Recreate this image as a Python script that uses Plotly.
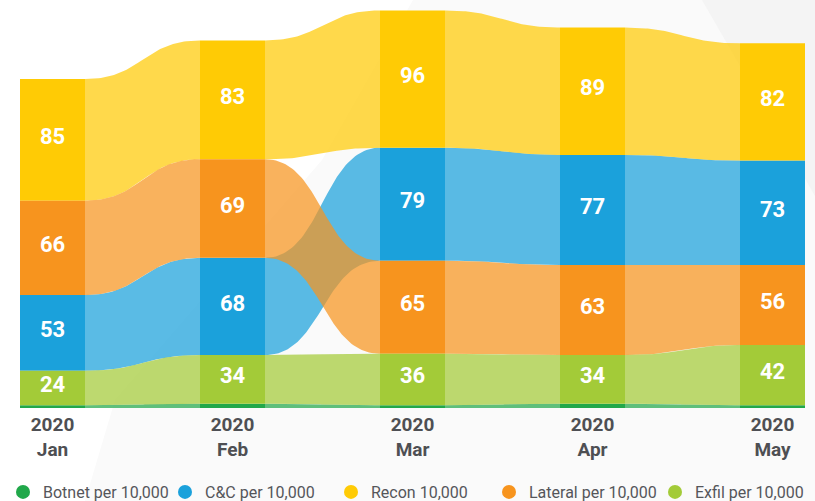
import numpy as np
import plotly.graph_objects as go

# ---- data ----
months = ["Jan", "Feb", "Mar", "Apr", "May"]
year = "2020"
series_names = ["Botnet per 10,000", "C&C per 10,000", "Recon 10,000",
                "Lateral per 10,000", "Exfil per 10,000"]
botnet = [2, 3, 2, 3, 2]
cnc = [53, 68, 79, 77, 73]
recon = [85, 83, 96, 89, 82]
lateral = [66, 69, 65, 63, 56]
exfil = [24, 34, 36, 34, 42]
bar_colors = ["#21a84a", "#1ba1db", "#ffcb05", "#f7941e", "#a3cb38"]
ribbon_alpha = 0.72

values = [botnet, cnc, recon, lateral, exfil]
n_m = len(months)
n_s = len(values)

# stacking: botnet fixed at the bottom, others sorted ascending upward
bases = [[0.0] * n_m for _ in range(n_s)]
for m in range(n_m):
    cur = values[0][m]
    order = sorted(range(1, n_s), key=lambda s: values[s][m])
    for s in order:
        bases[s][m] = cur
        cur += values[s][m]

W = 65 / 180  # bar width in x units
PX_PER_UNIT = 1.43
PLOT_H = 408


def hex_rgba(h, a):
    h = h.lstrip("#")
    r, g, b = int(h[0:2], 16), int(h[2:4], 16), int(h[4:6], 16)
    return f"rgba({r},{g},{b},{a})"


def bez(x0, y0, x1, y1, n=60):
    t = np.linspace(0, 1, n)
    cx = (x0 + x1) / 2
    x = (1 - t) ** 3 * x0 + 3 * (1 - t) ** 2 * t * cx + 3 * (1 - t) * t ** 2 * cx + t ** 3 * x1
    y = (1 - t) ** 3 * y0 + 3 * (1 - t) ** 2 * t * y0 + 3 * (1 - t) * t ** 2 * y1 + t ** 3 * y1
    return x, y


fig = go.Figure()

# ribbons
for s in range(n_s):
    col = hex_rgba(bar_colors[s], ribbon_alpha)
    for m in range(n_m - 1):
        x0 = m + W / 2
        x1 = m + 1 - W / 2
        t0 = bases[s][m] + values[s][m]
        t1 = bases[s][m + 1] + values[s][m + 1]
        b0 = bases[s][m]
        b1 = bases[s][m + 1]
        xt, yt = bez(x0, t0, x1, t1)
        xb, yb = bez(x0, b0, x1, b1)
        xs = np.concatenate([xt, xb[::-1]])
        ys = np.concatenate([yt, yb[::-1]])
        fig.add_trace(go.Scatter(x=xs, y=ys, mode="lines", fill="toself",
                                 fillcolor=col, line=dict(width=0),
                                 hoverinfo="skip", showlegend=False))

# bars
for s in range(n_s):
    fig.add_trace(go.Bar(x=list(range(n_m)), y=values[s], base=bases[s],
                         width=W, marker=dict(color=bar_colors[s], line=dict(width=0)),
                         showlegend=False, hoverinfo="skip"))

# value labels
for s in range(1, n_s):
    ys = [bases[s][m] + values[s][m] / 2 + 1.0 for m in range(n_m)]
    fig.add_trace(go.Scatter(x=list(range(n_m)), y=ys, mode="text",
                             text=[f"<b>{v}</b>" for v in values[s]],
                             textfont=dict(family="Roboto", size=22, color="white"),
                             hoverinfo="skip", showlegend=False))

# legend entries, each in its own legend so they can be placed freely
legend_px = [27, 189, 355, 513, 679]
legend_names = ["legend", "legend2", "legend3", "legend4", "legend5"]
for s in range(n_s):
    fig.add_trace(go.Scatter(x=[None], y=[None], mode="markers",
                             marker=dict(size=14, color=bar_colors[s]),
                             name=series_names[s], legend=legend_names[s]))


def px_to_paper(px, py):
    return px / 815, 1 - py / PLOT_H


def path_from(points):
    pts = [px_to_paper(x, y) for x, y in points]
    return "M " + " L ".join(f"{x:.4f},{y:.4f}" for x, y in pts) + " Z"


shapes = [
    dict(type="path", xref="paper", yref="paper", layer="below",
         path=path_from([(85, 501), (115, 400), (322, 160), (413, 0), (815, 0), (815, 501)]),
         fillcolor="#fafafa", line=dict(width=0)),
    dict(type="path", xref="paper", yref="paper", layer="below",
         path=path_from([(702, 0), (815, 0), (815, 196)]),
         fillcolor="#f4f4f4", line=dict(width=0)),
]

legend_layout = {}
for i, ln in enumerate(legend_names):
    legend_layout[ln] = dict(
        orientation="h", x=(legend_px[i] - 24) / 815, xanchor="left",
        y=1 - 492 / PLOT_H, yanchor="middle",
        font=dict(family="Roboto", size=16, color="#55565a"),
        itemwidth=30, bgcolor="rgba(0,0,0,0)", borderwidth=0)

fig.update_layout(
    width=815, height=501,
    margin=dict(l=0, r=0, t=0, b=501 - PLOT_H, pad=0, autoexpand=False),
    paper_bgcolor="white", plot_bgcolor="rgba(0,0,0,0)",
    barmode="overlay",
    shapes=shapes,
    xaxis=dict(range=[-52.5 / 180, (815 - 52.5) / 180], showgrid=False, zeroline=False,
               showline=False, tickvals=list(range(n_m)),
               ticktext=[f"<b>{year}<br>{mo}</b>" for mo in months],
               tickfont=dict(family="Roboto", size=19, color="#4e4f53"),
               ticks="", ticklabelstandoff=3,
               fixedrange=True, automargin=False),
    yaxis=dict(range=[0, PLOT_H / PX_PER_UNIT], showgrid=False, zeroline=False,
               showline=False, showticklabels=False, fixedrange=True),
    showlegend=True,
    **legend_layout,
)

fig.write_html("out.html", config={"displayModeBar": False},
               post_script="document.body.style.margin='0';document.body.style.overflow='hidden';")
